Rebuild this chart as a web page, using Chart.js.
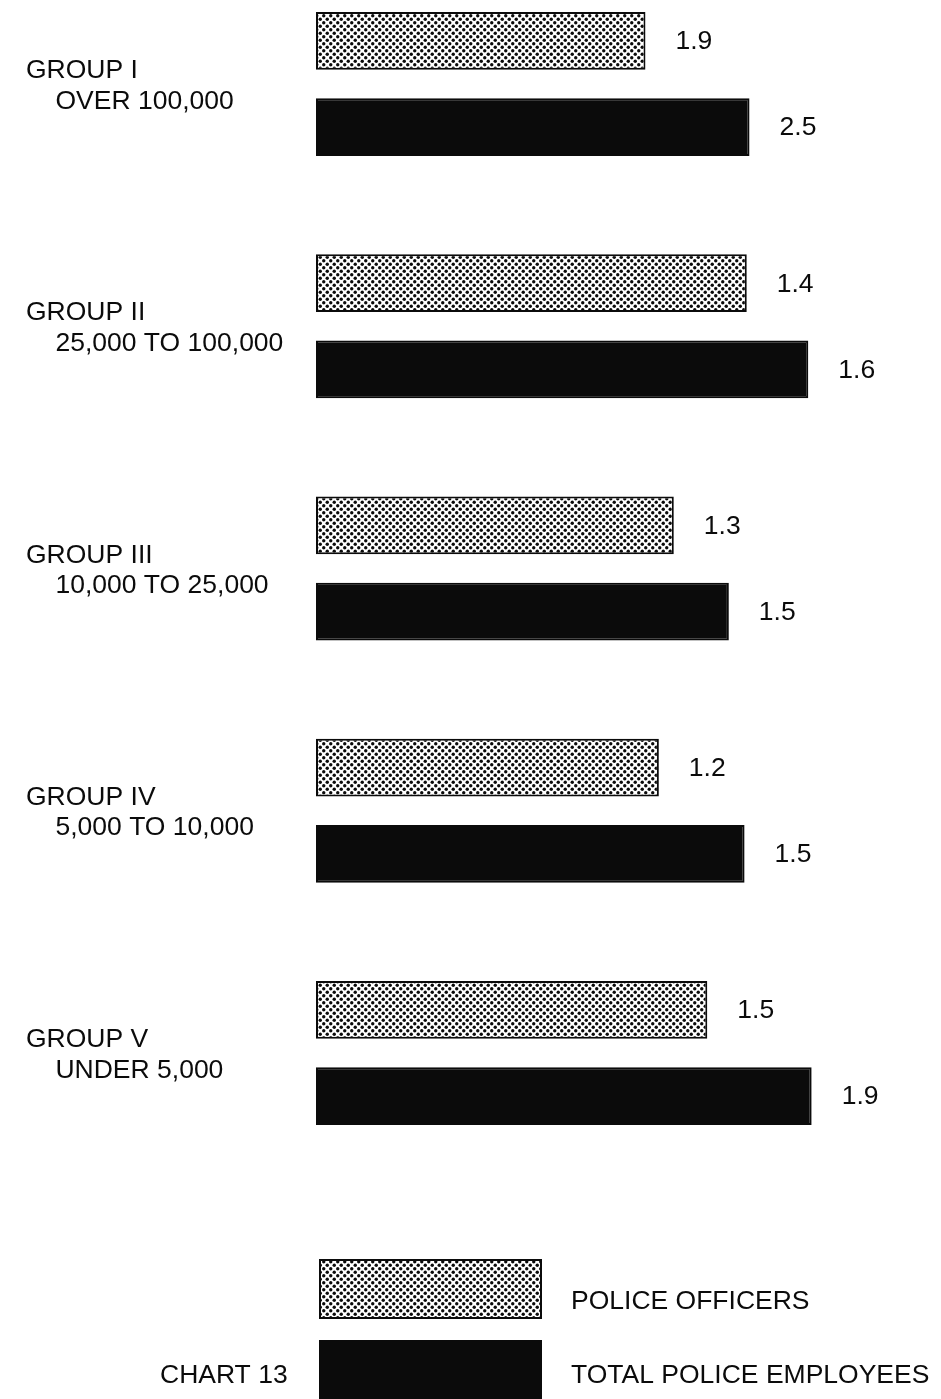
<!DOCTYPE html>
<html>
<head>
<meta charset="utf-8">
<title>Chart 13</title>
<script src="https://cdn.jsdelivr.net/npm/chart.js@4/dist/chart.umd.min.js"></script>
<style>
  html, body { margin: 0; padding: 0; background: #ffffff; }
  #wrap { position: relative; width: 941px; height: 1399px; }
</style>
</head>
<body>
<div id="wrap"><canvas id="chart"></canvas></div>
<script>
// ---- data ----
const groupNames = ['GROUP I', 'GROUP II', 'GROUP III', 'GROUP IV', 'GROUP V'];
const groupRanges = ['OVER 100,000', '25,000 TO 100,000', '10,000 TO 25,000', '5,000 TO 10,000', 'UNDER 5,000'];
const policeOfficers = [1.9, 1.4, 1.3, 1.2, 1.5];
const totalPoliceEmployees = [2.5, 1.6, 1.5, 1.5, 1.9];
const seriesNames = ['POLICE OFFICERS', 'TOTAL POLICE EMPLOYEES'];
const chartCaption = 'CHART 13';
// every group panel has its own horizontal scale (upper bound of each hidden axis)
const groupAxisMax = [3.46, 1.95, 2.18, 2.10, 2.30];

// ---- styling ----
const FONT = "'Liberation Sans', Arial, Helvetica, sans-serif";
const FONT_SIZE = 26.5;
const INK = '#0b0b0b';

// stippled dot screen used for the officers bars
function makeDotPattern() {
  const c = document.createElement('canvas');
  c.width = 7; c.height = 7;
  const g = c.getContext('2d');
  g.fillStyle = '#ffffff';
  g.fillRect(0, 0, 7, 7);
  g.fillStyle = INK;
  [[1.75, 1.75], [5.25, 5.25]].forEach(([x, y]) => {
    g.beginPath(); g.arc(x, y, 1.7, 0, Math.PI * 2); g.fill();
  });
  return document.createElement('canvas').getContext('2d').createPattern(c, 'repeat');
}
const dotPattern = makeDotPattern();
const seriesFills = [dotPattern, INK];

const labels = groupNames.map((name, i) => [name, '    ' + groupRanges[i]]);
const seriesValues = [policeOfficers, totalPoliceEmployees];

// one dataset per group and series, each bound to that group's axis
const datasets = [];
const scales = {
  y: {
    type: 'category',
    offset: false,
    grid: { display: false },
    border: { display: false },
    ticks: {
      color: INK,
      crossAlign: 'far',
      padding: 0,
      labelOffset: 2,
      font: { family: FONT, size: FONT_SIZE, lineHeight: 1.15 }
    },
    afterFit(axis) { axis.width = 290; }
  }
};
groupNames.forEach((_, g) => {
  const axisId = 'x' + g;
  scales[axisId] = { type: 'linear', min: 0, max: groupAxisMax[g], display: false, position: 'bottom' };
  seriesValues.forEach((vals, s) => {
    datasets.push({
      label: seriesNames[s],
      data: groupNames.map((__, i) => (i === g ? vals[i] : null)),
      xAxisID: axisId,
      backgroundColor: seriesFills[s],
      borderColor: INK,
      borderWidth: 2,
      borderSkipped: false,
      skipNull: true,
      clip: false,
      categoryPercentage: 0.711,
      barPercentage: 0.67
    });
  });
});

// value written to the right of each bar
const valueLabels = {
  id: 'valueLabels',
  afterDatasetsDraw(chart) {
    const ctx = chart.ctx;
    ctx.save();
    ctx.fillStyle = INK;
    ctx.font = FONT_SIZE + 'px ' + FONT;
    ctx.textAlign = 'left';
    ctx.textBaseline = 'middle';
    chart.data.datasets.forEach((ds, di) => {
      const meta = chart.getDatasetMeta(di);
      meta.data.forEach((bar, i) => {
        const v = ds.data[i];
        if (v === null || v === undefined) return;
        ctx.fillText(v.toFixed(1), bar.x + 30, bar.y + 1);
      });
    });
    ctx.restore();
  }
};

// key boxes and caption at the foot of the page
const footKey = {
  id: 'footKey',
  afterDraw(chart) {
    const ctx = chart.ctx;
    const base = chart.chartArea.bottom;
    const boxX = 320, boxW = 221, boxH = 58;
    const rows = [
      { top: base + 207, textY: base + 249 },
      { top: base + 288, textY: base + 323 }
    ];
    ctx.save();
    rows.forEach((r, s) => {
      ctx.fillStyle = seriesFills[s];
      ctx.fillRect(boxX, r.top, boxW, boxH);
      ctx.strokeStyle = INK;
      ctx.lineWidth = 2;
      ctx.strokeRect(boxX, r.top, boxW, boxH);
      ctx.fillStyle = INK;
      ctx.font = FONT_SIZE + 'px ' + FONT;
      ctx.textAlign = 'left';
      ctx.textBaseline = 'middle';
      ctx.fillText(seriesNames[s], 571, r.textY);
    });
    ctx.fillText(chartCaption, 160, rows[1].textY);
    ctx.restore();
  }
};

new Chart(document.getElementById('chart'), {
  type: 'bar',
  data: { labels, datasets },
  options: {
    indexAxis: 'y',
    responsive: true,
    maintainAspectRatio: false,
    animation: false,
    layout: { padding: { left: 26, right: 25, top: 84, bottom: 346 } },
    plugins: {
      legend: { display: false },
      tooltip: { enabled: false },
      title: { display: false }
    },
    scales
  },
  plugins: [valueLabels, footKey]
});
</script>
</body>
</html>
